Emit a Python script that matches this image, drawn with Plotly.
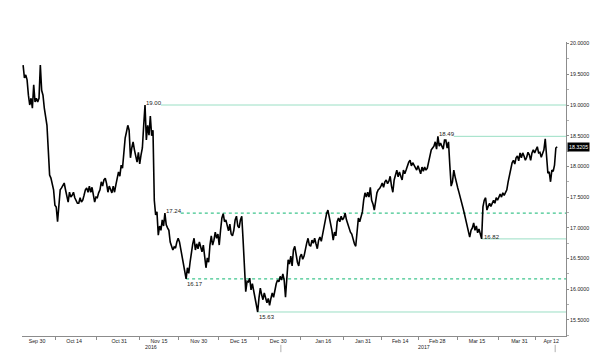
import pandas as pd
import plotly.graph_objects as go

# ---------------- data ----------------
series_start = "2016-09-24 18:00"
series_freq = "12h"
values = [
    19.65, 19.44, 19.49, 19.41, 19.16, 19.00, 19.11, 18.95, 19.33, 19.05,
    19.11, 19.05, 19.11, 19.65, 19.24, 19.16, 18.95, 18.79, 18.67, 18.27,
    17.86, 17.81, 17.70, 17.62, 17.37, 17.34, 17.10, 17.37, 17.62, 17.65,
    17.70, 17.73, 17.62, 17.50, 17.42, 17.58, 17.50, 17.53, 17.58, 17.49,
    17.45, 17.40, 17.40, 17.49, 17.42, 17.45, 17.53, 17.62, 17.65, 17.58,
    17.68, 17.58, 17.66, 17.52, 17.42, 17.50, 17.49, 17.57, 17.62, 17.75,
    17.68, 17.78, 17.81, 17.72, 17.58, 17.68, 17.62, 17.57, 17.68, 17.58,
    17.70, 17.81, 17.91, 17.84, 18.02, 17.97, 18.27, 18.46, 18.56, 18.67,
    18.59, 18.14, 18.30, 18.40, 18.27, 18.14, 18.07, 18.23, 18.04, 18.19,
    18.30, 18.67, 19.00, 18.43, 18.67, 18.51, 18.82, 18.50, 18.59, 17.45,
    17.21, 17.26, 16.88, 17.03, 16.96, 17.13, 17.03, 17.24, 17.05, 17.00,
    16.96, 16.77, 16.72, 16.64, 16.69, 16.67, 16.77, 16.83, 16.77, 16.64,
    16.54, 16.44, 16.28, 16.17, 16.35, 16.26, 16.44, 16.61, 16.74, 16.83,
    16.64, 16.74, 16.66, 16.77, 16.67, 16.61, 16.72, 16.51, 16.35, 16.51,
    16.44, 16.72, 16.87, 16.72, 16.80, 16.93, 16.83, 16.90, 16.72, 16.96,
    17.16, 17.23, 17.10, 17.13, 17.01, 16.95, 17.06, 16.90, 16.87, 16.96,
    17.13, 17.19, 17.03, 17.00, 17.13, 17.19, 16.80, 16.26, 15.96, 16.13,
    16.12, 16.18, 15.99, 16.09, 15.99, 15.86, 15.74, 15.63, 15.86, 16.02,
    15.91, 15.83, 15.94, 15.83, 15.78, 15.85, 15.74, 15.85, 15.94, 15.87,
    15.99, 16.09, 16.15, 16.12, 16.21, 16.15, 16.25, 16.15, 15.87, 16.18,
    16.48, 16.41, 16.54, 16.38, 16.64, 16.70, 16.56, 16.44, 16.38, 16.53,
    16.57, 16.49, 16.54, 16.66, 16.75, 16.83, 16.72, 16.70, 16.80, 16.75,
    16.83, 16.74, 16.66, 16.80, 16.85, 16.78, 16.90, 17.00, 17.13, 17.23,
    17.29, 17.19, 17.10, 16.96, 16.80, 16.93, 16.87, 17.10, 17.16, 17.10,
    17.19, 17.13, 17.16, 17.24, 17.13, 17.05, 17.00, 16.93, 16.90, 16.80,
    16.74, 16.70, 16.93, 17.16, 17.10, 17.19, 17.26, 17.45, 17.57, 17.50,
    17.58, 17.50, 17.66, 17.45, 17.39, 17.29, 17.45, 17.57, 17.62, 17.64,
    17.68, 17.73, 17.66, 17.75, 17.78, 17.72, 17.76, 17.84, 17.68, 17.58,
    17.78, 17.89, 17.94, 17.83, 17.91, 17.84, 17.78, 17.94, 17.88, 17.94,
    18.01, 18.07, 18.10, 18.01, 18.06, 18.01, 17.97, 17.94, 18.01, 17.94,
    17.88, 17.99, 17.92, 17.99, 17.94, 17.97, 18.07, 18.19, 18.27, 18.30,
    18.33, 18.40, 18.28, 18.49, 18.33, 18.38, 18.32, 18.28, 18.43, 18.43,
    18.30, 18.40, 18.02, 17.68, 17.75, 17.94, 17.83, 17.76, 17.65, 17.57,
    17.50, 17.42, 17.32, 17.23, 17.13, 17.05, 16.93, 16.85, 16.96, 17.00,
    17.08, 16.96, 17.03, 16.92, 16.98, 16.88, 16.82, 17.34, 17.45, 17.49,
    17.29, 17.35, 17.40, 17.35, 17.39, 17.45, 17.40, 17.49, 17.45, 17.50,
    17.55, 17.50, 17.57, 17.53, 17.57, 17.62, 17.75, 17.86, 17.94, 18.06,
    18.10, 18.04, 18.14, 18.17, 18.09, 18.22, 18.14, 18.22, 18.17, 18.10,
    18.15, 18.23, 18.19, 18.10, 18.22, 18.27, 18.22, 18.27, 18.32, 18.22,
    18.23, 18.15, 18.20, 18.27, 18.45, 18.10, 17.89, 17.91, 17.75, 17.94,
    17.92, 18.02, 18.30, 18.3205,
]
last_value = 18.3205
last_label = "18.3205"

level_values = [19.00, 18.49, 17.24, 16.82, 16.17, 15.63]
level_labels = ["19.00", "18.49", "17.24", "16.82", "16.17", "15.63"]
level_dates = ["2016-11-09 18:00", "2017-02-28 06:00", "2016-11-17 06:00",
               "2017-03-16 18:00", "2016-11-25 06:00", "2016-12-22 06:00"]
level_kind = ["high", "high", "high", "on", "low", "low"]
level_style = ["solid", "solid", "dot", "solid", "dot", "solid"]

tick_dates = ["2016-09-30", "2016-10-14", "2016-10-31", "2016-11-15", "2016-11-30",
              "2016-12-15", "2016-12-30", "2017-01-16", "2017-01-31", "2017-02-14",
              "2017-02-28", "2017-03-15", "2017-03-31", "2017-04-12"]
tick_text = ["Sep 30", "Oct 14", "Oct 31", "Nov 15", "Nov 30", "Dec 15", "Dec 30",
             "Jan 16", "Jan 31", "Feb 14", "Feb 28", "Mar 15", "Mar 31", "Apr 12"]
year_labels = ["2016", "2017"]
year_dates = ["2016-11-12", "2017-02-23"]
marker_dates = ["2016-12-31", "2017-04-13 12:00"]

x_range = ["2016-09-24 08:00", "2017-04-17 14:00"]
y_range = [15.239, 20.026]

# ---------------- figure ----------------
dates = pd.date_range(series_start, periods=len(values), freq=series_freq)
tick_ts = pd.to_datetime(tick_dates)
minor_vals = [tick_ts[i] + (tick_ts[i + 1] - tick_ts[i]) / 2 for i in range(len(tick_ts) - 1)]

FONT = "Liberation Sans"
SOLID = "#9adfc4"
DASHED = "#3fc58d"

fig = go.Figure()
fig.add_trace(go.Scatter(x=dates, y=values, mode="lines",
                         line=dict(color="#000000", width=1.6),
                         hoverinfo="skip", showlegend=False))

shapes = []
annotations = []
for val, lab, d, kind, style in zip(level_values, level_labels, level_dates, level_kind, level_style):
    d = pd.Timestamp(d)
    x0 = d + pd.Timedelta(days=6) if kind == "high" else d
    color = SOLID if style == "solid" else DASHED
    shapes.append(dict(type="line", xref="x", yref="y", x0=x0, x1=x_range[1], y0=val, y1=val,
                       line=dict(color=color, width=1.2 if style == "dot" else 1, dash=style),
                       layer="below"))
    if kind == "high":
        annotations.append(dict(x=d, y=val, xref="x", yref="y", text=lab, showarrow=False,
                                xanchor="left", yanchor="middle", yshift=2, borderpad=0,
                                font=dict(family=FONT, size=6, color="#222")))
    elif kind == "low":
        annotations.append(dict(x=d, y=val, xref="x", yref="y", text=lab, showarrow=False,
                                xanchor="left", yanchor="middle", yshift=-5, borderpad=0,
                                font=dict(family=FONT, size=6, color="#222")))
    else:
        annotations.append(dict(x=d + pd.Timedelta(days=0.5), y=val, xref="x", yref="y", text=lab,
                                showarrow=False, xanchor="left", yanchor="middle", yshift=2,
                                borderpad=0, font=dict(family=FONT, size=6, color="#222")))

for yl, yd in zip(year_labels, year_dates):
    annotations.append(dict(x=yd, y=-0.037, xref="x", yref="paper", text=yl, showarrow=False,
                            xanchor="center", yanchor="middle", borderpad=0,
                            font=dict(family=FONT, size=5.3, color="#222")))

for md in marker_dates:
    shapes.append(dict(type="line", xref="x", yref="paper", x0=md, x1=md, y0=-0.03, y1=-0.055,
                       line=dict(color="#b0b0b0", width=1)))

annotations.append(dict(x=1, y=last_value, xref="paper", yref="y", text=last_label,
                        showarrow=False, xanchor="left", yanchor="middle", xshift=1,
                        bgcolor="#000000", borderpad=1,
                        font=dict(family=FONT, size=5.3, color="#ffffff")))

fig.update_layout(
    width=600, height=358,
    margin=dict(l=22, r=34, t=42, b=22),
    paper_bgcolor="#ffffff", plot_bgcolor="#ffffff",
    showlegend=False,
    shapes=shapes, annotations=annotations,
    font=dict(family=FONT, size=5.3, color="#222"),
    xaxis=dict(type="date", range=x_range, showgrid=False, zeroline=False,
               showline=True, linecolor="#8c8c8c", linewidth=1,
               tickmode="array", tickvals=tick_ts, ticktext=tick_text, ticks="",
               tickfont=dict(family=FONT, size=5.3, color="#222"),
               minor=dict(tickmode="array", tickvals=minor_vals, ticks="outside",
                          ticklen=3, tickcolor="#8c8c8c", showgrid=False)),
    yaxis=dict(side="right", range=y_range, showgrid=False, zeroline=False,
               showline=True, linecolor="#8c8c8c", linewidth=1,
               tick0=15.5, dtick=0.5, tickformat=".4f", ticks="outside",
               ticklen=2, tickcolor="#8c8c8c",
               tickfont=dict(family=FONT, size=5.3, color="#222"),
               minor=dict(dtick=0.25, ticks="outside", ticklen=2, tickcolor="#b0b0b0",
                          showgrid=False)),
)

fig.write_html("out.html", config={"displayModeBar": False},
               post_script="document.body.style.margin='0px';document.body.style.overflow='hidden';")
